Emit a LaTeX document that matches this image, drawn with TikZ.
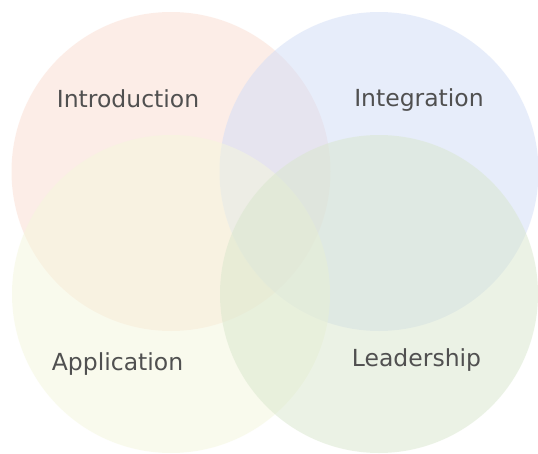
\documentclass[tikz,border=0pt]{standalone}
\usepackage{fontspec}
\setmainfont{DejaVu Sans}
\definecolor{cintro}{RGB}{251,221,209}
\definecolor{cinteg}{RGB}{209,221,247}
\definecolor{cappl}{RGB}{245,247,221}
\definecolor{clead}{RGB}{217,231,205}
\definecolor{ctext}{RGB}{80,80,80}
\begin{document}
\begin{tikzpicture}[x=1pt,y=-1pt,
  venn/.style={fill opacity=0.5, draw=none},
  lbl/.style={anchor=base, text=ctext, font=\fontsize{23.5}{28}\selectfont, inner sep=0pt}]
\useasboundingbox (0,0) rectangle (538,453);
\fill[white] (0,0) rectangle (538,453);
\fill[venn, cintro] (171,171.5) circle[radius=159.5];
\fill[venn, cinteg] (379,171.5) circle[radius=159.5];
\fill[venn, cappl] (171,294) circle[radius=159];
\fill[venn, clead] (379,294) circle[radius=159];
\node[lbl] (intro) at (128,107) {Introduction};
\node[lbl] (integ) at (419,106) {Integration};
\node[lbl] (appl) at (117.5,370) {Application};
\node[lbl] (lead) at (416.5,366.5) {Leadership};
\end{tikzpicture}
\end{document}
